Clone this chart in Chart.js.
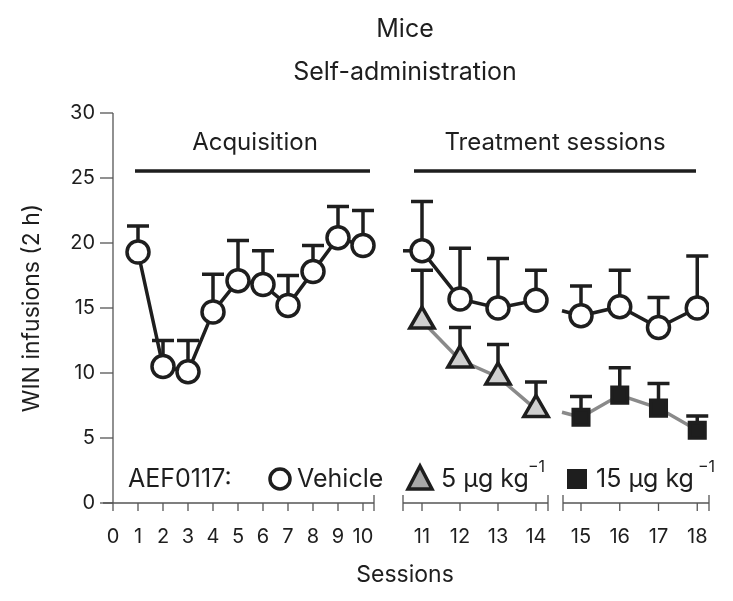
<!DOCTYPE html>
<html><head><meta charset="utf-8">
<script src="https://cdn.jsdelivr.net/npm/chart.js@4/dist/chart.umd.min.js"></script>
<style>html,body{margin:0;padding:0;background:#fff}#w{width:733px;height:601px}</style>
</head><body><div id="w"><canvas id="c"></canvas></div>
<script>
const acqSessions=[1,2,3,4,5,6,7,8,9,10];
const acqVehicle=[19.3,10.5,10.1,14.7,17.1,16.8,15.2,17.8,20.4,19.8];
const acqVehicleErr=[21.3,12.5,12.5,17.6,20.2,19.4,17.5,19.8,22.8,22.5];
const trtSessionsA=[11,12,13,14];
const trtSessionsB=[15,16,17,18];
const vehA=[19.4,15.7,15.0,15.6];
const vehAErr=[23.2,19.6,18.8,17.9];
const vehB=[14.4,15.1,13.5,15.0];
const vehBErr=[16.7,17.9,15.8,19.0];
const dose5=[14.0,11.0,9.7,7.2];
const dose5Err=[17.9,13.5,12.2,9.3];
const dose15=[6.6,8.3,7.3,5.6];
const dose15Err=[8.2,10.4,9.2,6.7];
const xTicks=[0,1,2,3,4,5,6,7,8,9,10,11,12,13,14,15,16,17,18];
const yTicks=[0,5,10,15,20,25,30];

function pos(s){ if(s<=10) return s; if(s<=14) return 12.36+(s-11)*1.52; return 18.72+(s-15)*1.55; }
const pts=(xs,ys)=>xs.map((s,i)=>({x:pos(s),y:ys[i]}));
const K='#1e1e1e', G='#8a8a8a';
function ds(data,err,style,extra){return Object.assign({data:data,err:err,showLine:true,borderWidth:3.5,borderColor:K,pointBorderColor:K,pointBorderWidth:3.5,pointBackgroundColor:'#fff',pointStyle:style,pointRadius:11},extra||{});}
const datasets=[
 ds(pts(acqSessions,acqVehicle),acqVehicleErr,'circle'),
 ds(pts(trtSessionsA,vehA),vehAErr,'circle',{stub:'h'}),
 ds(pts(trtSessionsB,vehB),vehBErr,'circle',{stub:'s'}),
 ds(pts(trtSessionsA,dose5),dose5Err,'triangle',{borderColor:G,pointBackgroundColor:'#cfcfcf',pointRadius:14}),
 ds(pts(trtSessionsB,dose15),dose15Err,'rect',{borderColor:G,pointBackgroundColor:K,pointRadius:11,stub:'s'})
];
const F='"Inter","Liberation Sans",sans-serif';
const deco={id:'deco',
 beforeDatasetsDraw(ch){
  const c=ch.ctx,xs=ch.scales.x,ys=ch.scales.y;
  c.save();c.lineCap='butt';
  ch.data.datasets.forEach(d=>{
   const p0=d.data[0],px=xs.getPixelForValue(p0.x),py=ys.getPixelForValue(p0.y);
   if(d.stub){c.strokeStyle=d.borderColor;c.lineWidth=3.5;c.beginPath();c.moveTo(px,py);
     c.lineTo(px-19,d.stub==='h'?py:py-5);c.stroke();}
   d.data.forEach((p,i)=>{const x=xs.getPixelForValue(p.x),y=ys.getPixelForValue(p.y),t=ys.getPixelForValue(d.err[i]);
     c.strokeStyle=K;c.lineWidth=3.5;c.beginPath();c.moveTo(x,y);c.lineTo(x,t);c.moveTo(x-11,t);c.lineTo(x+11,t);c.stroke();});
  });
  c.restore();
 },
 afterDraw(ch){
  const c=ch.ctx,xs=ch.scales.x,ys=ch.scales.y;
  c.save();c.strokeStyle='#555';c.fillStyle=K;c.lineWidth=1.3;
  const y0=ys.getPixelForValue(0),x0=xs.getPixelForValue(0);
  c.beginPath();c.moveTo(x0,ys.getPixelForValue(30));c.lineTo(x0,y0);c.stroke();
  c.font='20px '+F;c.textAlign='right';c.textBaseline='middle';
  yTicks.forEach(v=>{const y=ys.getPixelForValue(v);c.beginPath();c.moveTo(x0-13,y);c.lineTo(x0,y);c.stroke();c.fillText(String(v),x0-18,y);});
  const segs=[[103,374],[403,548],[563,709]];
  segs.forEach((s,i)=>{c.beginPath();c.moveTo(s[0],y0);c.lineTo(s[1],y0);c.stroke();
    if(i>0){c.beginPath();c.moveTo(s[0],y0-8);c.lineTo(s[0],y0+8);c.stroke();}
    c.beginPath();c.moveTo(s[1],y0-8);c.lineTo(s[1],y0+8);c.stroke();});
  c.textAlign='center';c.textBaseline='top';
  xTicks.forEach(s=>{const x=xs.getPixelForValue(pos(s));c.beginPath();c.moveTo(x,y0);c.lineTo(x,y0+8);c.stroke();c.fillText(String(s),x,y0+24);});
  c.font='23px '+F;c.fillText('Sessions',405,564);
  c.save();c.translate(32,308);c.rotate(-Math.PI/2);c.textBaseline='middle';c.fillText('WIN infusions (2 h)',0,0);c.restore();
  c.font='25px '+F;c.textBaseline='middle';c.fillText('Mice',405,29);c.fillText('Self-administration',405,72);
  c.font='24px '+F;c.fillText('Acquisition',255,143);c.fillText('Treatment sessions',555,143);
  c.strokeStyle=K;c.lineWidth=3.5;c.beginPath();c.moveTo(135,171);c.lineTo(370,171);c.moveTo(414,171);c.lineTo(696,171);c.stroke();
  const ly=479;c.font='25px '+F;c.textAlign='left';c.fillStyle=K;c.fillText('AEF0117:',128,ly);
  c.lineWidth=3.5;c.beginPath();c.arc(280,ly,10,0,Math.PI*2);c.fillStyle='#fff';c.fill();c.stroke();
  c.fillStyle=K;c.fillText('Vehicle',297,ly);
  c.beginPath();c.moveTo(420,ly-13);c.lineTo(432,ly+10);c.lineTo(408,ly+10);c.closePath();c.fillStyle='#a8a8a8';c.fill();c.stroke();
  c.fillStyle=K;c.fillText('5 µg kg',441,ly);c.font='16px '+F;c.fillText('−1',528,ly-12);
  c.fillRect(567,ly-10,20,20);
  c.font='25px '+F;c.fillText('15 µg kg',596,ly);c.font='16px '+F;c.fillText('−1',698,ly-12);
  c.restore();
 }};
new Chart(document.getElementById('c'),{type:'scatter',data:{datasets:datasets},
 options:{responsive:true,maintainAspectRatio:false,animation:false,
  layout:{padding:{left:103,right:24,top:113,bottom:98}},
  plugins:{legend:{display:false},tooltip:{enabled:false}},
  scales:{x:{type:'linear',min:-0.4,max:23.84,display:false},y:{min:0,max:30,display:false}}},
 plugins:[deco]});
</script></body></html>
